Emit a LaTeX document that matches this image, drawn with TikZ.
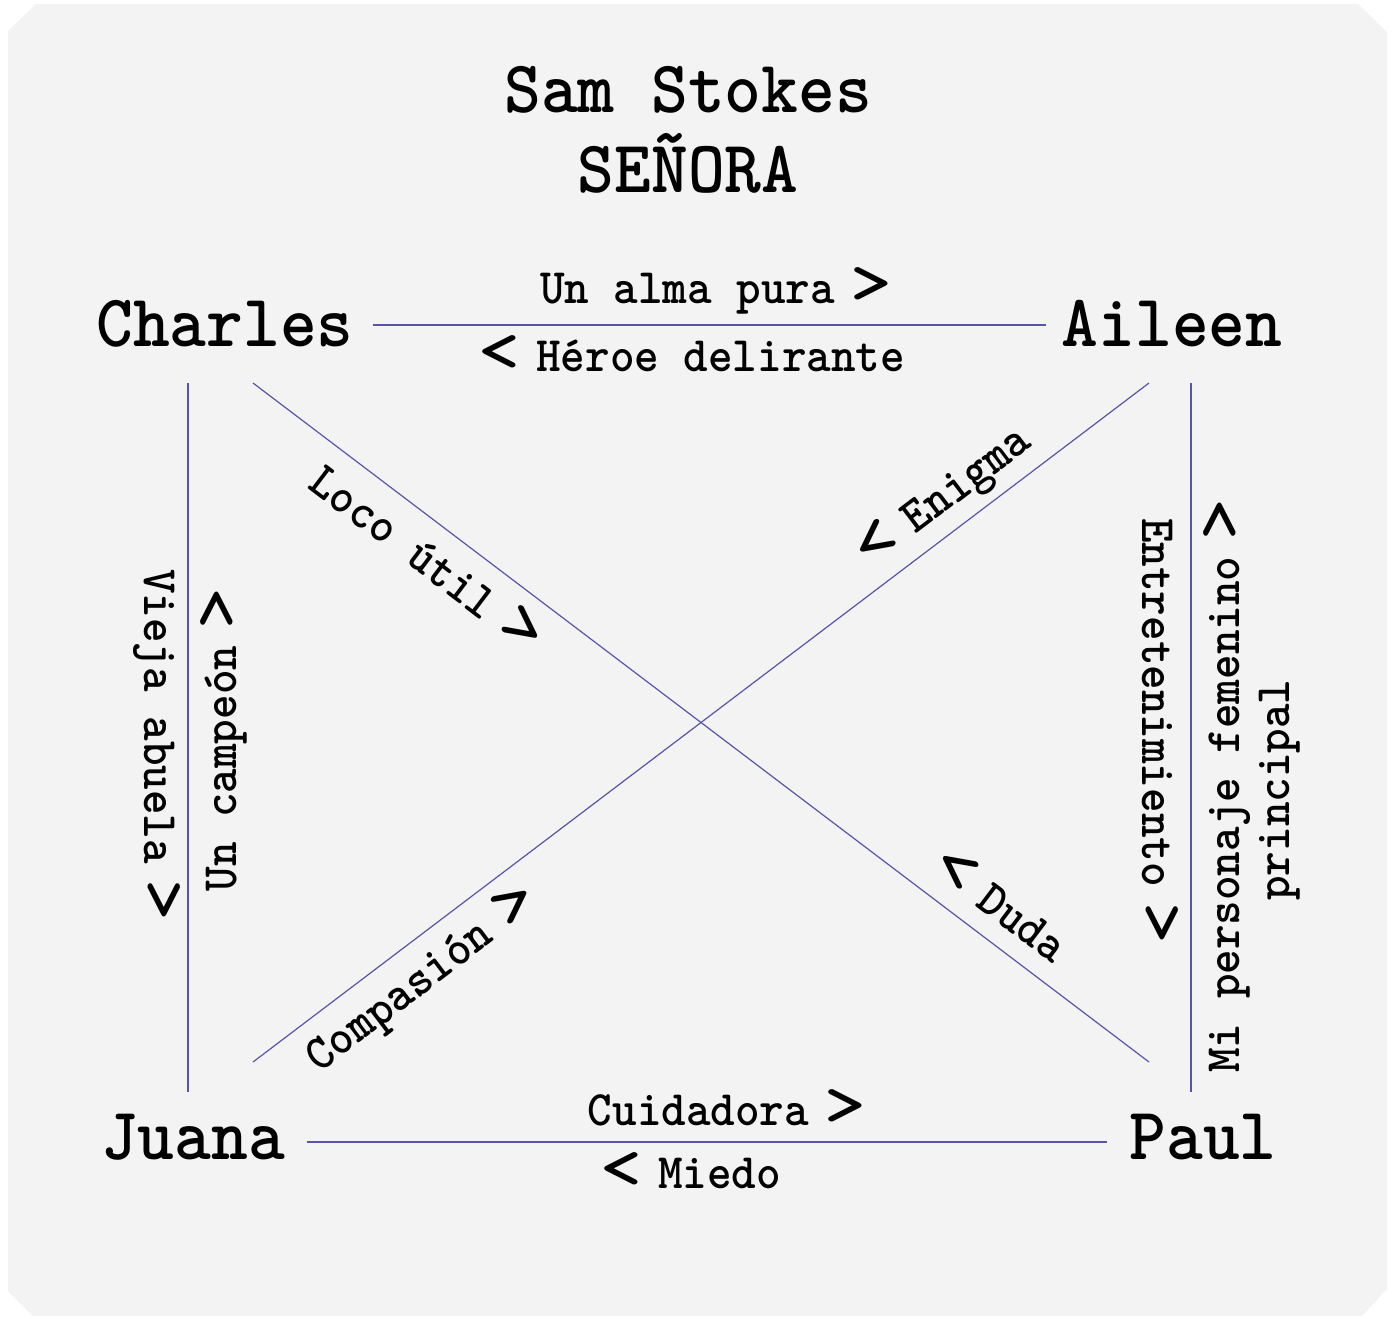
\documentclass[tikz,border=0pt]{standalone}
\usepackage{fontspec}
\definecolor{panel}{HTML}{F3F3F3}
\definecolor{linec}{RGB}{88,84,168}
\newcommand\tallt[1]{\scalebox{1}[1.06]{#1}}
\newcommand\chev[1]{\makebox[0.525em]{\scalebox{1.7}[1.3]{#1}}}
\begin{document}
\begin{tikzpicture}[x=1pt,y=-1pt,
  person/.style={font=\ttfamily\bfseries\fontsize{70}{80}\selectfont, anchor=base, inner sep=0pt},
  ttl/.style={font=\ttfamily\bfseries\fontsize{70}{80}\selectfont, anchor=base, inner sep=0pt},
  lbl/.style={font=\ttfamily\bfseries\fontsize{46.8}{50}\selectfont, anchor=base, inner sep=0pt},
  conn/.style={draw=linec, line width=1.2pt}]
\useasboundingbox (0,0) rectangle (1394,1318);
\fill[white] (0,0) rectangle (1394,1318);
\fill[panel] (8,31) -- (36,4) -- (1358,4) -- (1387,32) -- (1387,1289) -- (1362,1316) -- (33,1316) -- (8,1291) -- cycle;

% title
\node[ttl] (t1) at (688,112) {\tallt{Sam Stokes}};
\node[ttl] (t2) at (688,192) {\tallt{SEÑORA}};

% people
\node[person] (Charles) at (225,346) {\tallt{Charles}};
\node[person] (Aileen) at (1172,346) {\tallt{Aileen}};
\node[person] (Juana) at (193,1159) {\tallt{Juana}};
\node[person] (Paul) at (1203,1159) {\tallt{Paul}};

% connector ends
\coordinate (Charles-r) at (373,325);
\coordinate (Charles-d) at (188,383);
\coordinate (Charles-x) at (253,383);
\coordinate (Aileen-l) at (1046,325);
\coordinate (Aileen-d) at (1191,383);
\coordinate (Aileen-x) at (1149,383);
\coordinate (Juana-r) at (307,1142);
\coordinate (Juana-u) at (188,1092);
\coordinate (Juana-x) at (253,1062);
\coordinate (Paul-l) at (1107,1142);
\coordinate (Paul-u) at (1191,1092);
\coordinate (Paul-x) at (1149,1062);

\draw[conn] (Charles-r) -- (Aileen-l);
\draw[conn] (Juana-r) -- (Paul-l);
\draw[conn] (Charles-d) -- (Juana-u);
\draw[conn] (Aileen-d) -- (Paul-u);
\draw[conn] (Charles-x) -- (Paul-x);
\draw[conn] (Aileen-x) -- (Juana-x);

% labels
\node[lbl] (l1) at (712,303) {\tallt{Un alma pura \chev{>}}};
\node[lbl] (l2) at (696,371) {\tallt{\chev{<} Héroe delirante}};
\node[lbl] (l3) at (723,1125) {\tallt{Cuidadora \chev{>}}};
\node[lbl] (l4) at (695,1188) {\tallt{\chev{<} Miedo}};
\node[lbl, rotate=-90] (l5) at (144,741) {\tallt{Vieja abuela \chev{>}}};
\node[lbl, rotate=90] (l6) at (236,744) {\tallt{Un campeón \chev{>}}};
\node[lbl, rotate=-90] (l7) at (1142,727) {\tallt{Entretenimiento \chev{>}}};
\node[lbl, rotate=90, anchor=center, align=center] (l8) at (1252,790) {\tallt{Mi personaje femenino \chev{>}}\\\tallt{principal}};
\node[lbl, rotate=-37.16] (l9) at (414,569) {\tallt{Loco útil \chev{>}}};
\node[lbl, rotate=37.16] (l10) at (955,505) {\tallt{\chev{<} Enigma}};
\node[lbl, rotate=37.16] (l11) at (427,992) {\tallt{Compasión \chev{>}}};
\node[lbl, rotate=-37.16] (l12) at (994,920) {\tallt{\chev{<} Duda}};
\end{tikzpicture}
\end{document}
